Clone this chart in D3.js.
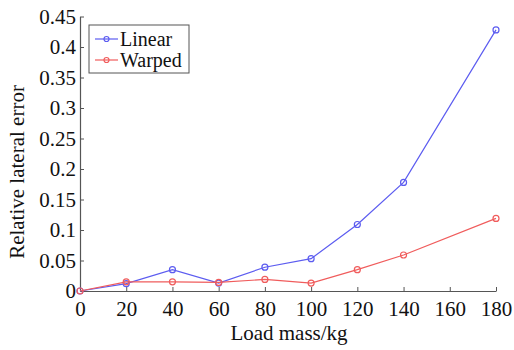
<!DOCTYPE html>
<html>
<head>
<meta charset="utf-8">
<script src="https://cdn.jsdelivr.net/npm/d3@7"></script>
<style>
  body { margin: 0; background: #fff; }
  svg text { font-family: "Liberation Serif", "DejaVu Serif", serif !important; }
</style>
</head>
<body>
<svg id="chart"></svg>
<script>
// data
const loads = [0, 20, 40, 60, 80, 100, 120, 140, 180];
const linearErr = [0, 0.012, 0.035, 0.013, 0.039, 0.053, 0.109, 0.178, 0.428];
const warpedErr = [0, 0.015, 0.015, 0.014, 0.019, 0.013, 0.035, 0.059, 0.119];
const xTicks = [0, 20, 40, 60, 80, 100, 120, 140, 160, 180];
const yTicks = [0, 0.05, 0.1, 0.15, 0.2, 0.25, 0.3, 0.35, 0.4, 0.45];
const seriesNames = ['Linear', 'Warped'];
const seriesColors = ['#5c5cf0', '#f05c5c'];

const width = 514, height = 350;

const svg = d3.select('#chart')
  .attr('width', width)
  .attr('height', height);

/* scales */
const x = d3.scaleLinear().domain([0, 180]).range([80, 496]);
const y = d3.scaleLinear().domain([0, 0.45]).range([291, 16.5]);

/* axes - ticks point inward like matlab */
const xAxis = d3.axisBottom(x).tickValues(xTicks).tickSizeInner(-4).tickSizeOuter(0).tickPadding(6)
  .tickFormat(d => d);
const yAxis = d3.axisLeft(y).tickValues(yTicks).tickSizeInner(-4).tickSizeOuter(0).tickPadding(4)
  .tickFormat(d => d === 0 ? '0' : String(+d.toFixed(2)));

const gx = svg.append('g')
  .attr('transform', `translate(0, ${y(0)})`)
  .call(xAxis);
const gy = svg.append('g')
  .attr('transform', `translate(${x(0)}, 0)`)
  .call(yAxis);

[gx, gy].forEach(g => {
  g.attr('font-size', 21);
  g.select('.domain').attr('stroke', '#555').attr('stroke-width', 1.2);
  g.selectAll('.tick line').attr('stroke', '#555');
  g.selectAll('.tick text').attr('fill', '#111');
});
gx.selectAll('.tick text').attr('dy', '0.9em');

/* axis titles */
svg.append('text')
  .attr('x', 289).attr('y', 340)
  .attr('text-anchor', 'middle')
  .attr('font-size', 21)
  .attr('fill', '#111')
  .text('Load mass/kg');

svg.append('text')
  .attr('transform', 'translate(24, 172) rotate(-90)')
  .attr('text-anchor', 'middle')
  .attr('font-size', 21)
  .attr('fill', '#111')
  .text('Relative lateral error');

/* lines */
const line = d3.line()
  .x((d, i) => x(loads[i]))
  .y(d => y(d));

[linearErr, warpedErr].forEach((vals, s) => {
  svg.append('path')
    .datum(vals)
    .attr('d', line)
    .attr('fill', 'none')
    .attr('stroke', seriesColors[s])
    .attr('stroke-width', 1.2);

  svg.selectAll(null)
    .data(vals)
    .enter()
    .append('circle')
    .attr('cx', (d, i) => x(loads[i]))
    .attr('cy', d => y(d))
    .attr('r', 3)
    .attr('fill', 'none')
    .attr('stroke', seriesColors[s])
    .attr('stroke-width', 1.2);
});

/* legend */
const legend = svg.append('g').attr('transform', 'translate(89, 25)');
legend.append('rect')
  .attr('width', 100).attr('height', 48)
  .attr('fill', '#fff')
  .attr('stroke', '#555')
  .attr('stroke-width', 1);

seriesNames.forEach((name, i) => {
  const ly = 14 + i * 21;
  legend.append('line')
    .attr('x1', 6).attr('x2', 29)
    .attr('y1', ly).attr('y2', ly)
    .attr('stroke', seriesColors[i])
    .attr('stroke-width', 1.2);
  legend.append('circle')
    .attr('cx', 17.5).attr('cy', ly).attr('r', 2.5)
    .attr('fill', 'none')
    .attr('stroke', seriesColors[i])
    .attr('stroke-width', 1.2);
  legend.append('text')
    .attr('x', 31).attr('y', ly)
    .attr('dy', '0.35em')
    .attr('font-size', 20)
    .attr('fill', '#111')
    .text(name);
});
</script>
</body>
</html>
